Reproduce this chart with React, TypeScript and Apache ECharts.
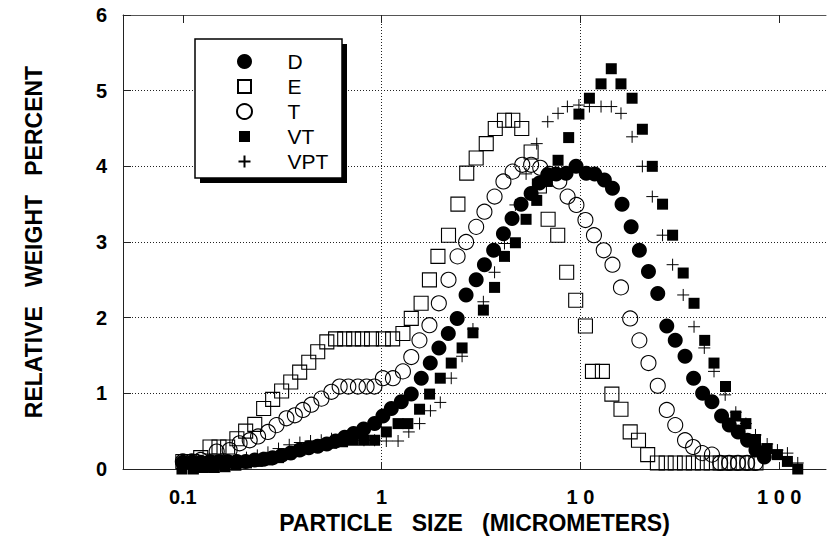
import React, { useEffect, useRef } from "react";
import * as echarts from "echarts";

// ---- data (particle size in micrometers, relative weight percent) ----
const dSize = [0.100, 0.111, 0.123, 0.137, 0.152, 0.168, 0.187, 0.207, 0.230, 0.255, 0.283, 0.314, 0.349, 0.387, 0.430, 0.477, 0.530, 0.587, 0.652, 0.723, 0.812, 0.922, 1.015, 1.119, 1.256, 1.410, 1.583, 1.757, 1.942, 2.165, 2.40, 2.66, 2.99, 3.29, 3.66, 4.10, 4.53, 5.03, 5.65, 6.22, 6.85, 7.55, 8.47, 9.51, 10.7, 11.8, 13.2, 14.5, 16.2, 18.0, 19.8, 22.0, 24.5, 27.2, 30.0, 33.6, 37.1, 41.2, 45.9, 51.3, 56.1, 62.2, 69.3, 76.4, 84.2];
const dValue = [0.09, 0.09, 0.09, 0.1, 0.1, 0.1, 0.1, 0.1, 0.12, 0.13, 0.15, 0.18, 0.21, 0.25, 0.28, 0.3, 0.33, 0.37, 0.42, 0.47, 0.53, 0.60, 0.70, 0.80, 0.89, 0.99, 1.20, 1.40, 1.60, 1.79, 1.99, 2.30, 2.50, 2.70, 2.89, 3.11, 3.31, 3.50, 3.64, 3.78, 3.89, 3.90, 3.91, 4.00, 3.91, 3.90, 3.82, 3.71, 3.50, 3.20, 2.89, 2.61, 2.32, 1.89, 1.70, 1.49, 1.20, 1.00, 0.89, 0.70, 0.58, 0.49, 0.38, 0.25, 0.16];

const eSize = [0.100, 0.111, 0.123, 0.137, 0.152, 0.168, 0.187, 0.207, 0.230, 0.255, 0.283, 0.314, 0.349, 0.387, 0.430, 0.477, 0.530, 0.587, 0.652, 0.723, 0.800, 0.890, 1.02, 1.136, 1.28, 1.41, 1.58, 1.74, 1.92, 2.17, 2.42, 2.68, 2.99, 3.36, 3.73, 4.15, 4.57, 5.07, 5.65, 6.22, 6.88, 7.69, 8.53, 9.47, 10.6, 11.5, 12.9, 14.4, 16.0, 17.8, 19.6, 21.8, 24.4, 27.0, 30.0, 33.4, 37.0, 41.1, 45.5, 50.5, 56.0, 62.1, 68.9, 76.4];
const eValue = [0.1, 0.1, 0.15, 0.29, 0.29, 0.29, 0.40, 0.50, 0.59, 0.80, 0.92, 1.03, 1.15, 1.28, 1.41, 1.55, 1.68, 1.72, 1.72, 1.72, 1.72, 1.72, 1.72, 1.72, 1.79, 1.99, 2.19, 2.50, 2.81, 3.09, 3.50, 3.91, 4.11, 4.30, 4.50, 4.61, 4.61, 4.50, 4.19, 3.74, 3.30, 3.09, 2.60, 2.23, 1.89, 1.29, 1.29, 0.99, 0.79, 0.49, 0.38, 0.19, 0.08, 0.08, 0.08, 0.08, 0.08, 0.08, 0.08, 0.08, 0.08, 0.08, 0.08, 0.08];

const tSize = [0.100, 0.111, 0.123, 0.148, 0.172, 0.193, 0.217, 0.239, 0.268, 0.296, 0.332, 0.366, 0.402, 0.443, 0.498, 0.559, 0.615, 0.68, 0.76, 0.84, 0.92, 1.015, 1.14, 1.28, 1.41, 1.55, 1.74, 1.94, 2.17, 2.41, 2.66, 2.99, 3.29, 3.70, 4.10, 4.56, 5.10, 5.65, 6.28, 6.98, 7.83, 8.62, 9.55, 10.6, 11.7, 13.1, 14.5, 16.0, 17.8, 19.8, 22.0, 24.5, 27.2, 30.0, 33.6, 36.9, 41.0, 45.9, 50.5, 56.0, 62.0, 69.0, 76.0];
const tValue = [0.1, 0.1, 0.12, 0.23, 0.25, 0.34, 0.38, 0.43, 0.49, 0.58, 0.67, 0.71, 0.78, 0.85, 0.93, 1.02, 1.09, 1.09, 1.09, 1.09, 1.09, 1.20, 1.20, 1.29, 1.48, 1.70, 1.90, 2.19, 2.50, 2.81, 3.00, 3.20, 3.40, 3.60, 3.80, 3.93, 4.02, 4.02, 3.98, 3.90, 3.80, 3.60, 3.49, 3.29, 3.09, 2.89, 2.70, 2.40, 1.99, 1.70, 1.40, 1.10, 0.78, 0.58, 0.38, 0.29, 0.21, 0.19, 0.08, 0.08, 0.08, 0.08, 0.08];

const vtSize = [0.099, 0.113, 0.127, 0.144, 0.163, 0.185, 0.209, 0.237, 0.268, 0.303, 0.343, 0.388, 0.439, 0.497, 0.56, 0.636, 0.72, 0.815, 0.922, 1.056, 1.21, 1.355, 1.552, 1.743, 1.973, 2.24, 2.54, 2.88, 3.25, 3.70, 4.15, 4.71, 5.33, 6.03, 6.82, 7.72, 8.73, 9.83, 11.1, 12.7, 14.3, 16.0, 18.2, 20.5, 23.0, 25.9, 29.1, 32.9, 37.3, 42.2, 47.0, 53.7, 60.5, 68.0, 76.0, 87.0, 98.0, 110, 124];
const vtValue = [0.0, 0.0, 0.02, 0.02, 0.03, 0.05, 0.08, 0.1, 0.12, 0.15, 0.2, 0.25, 0.3, 0.32, 0.34, 0.36, 0.38, 0.38, 0.38, 0.49, 0.60, 0.60, 0.79, 0.99, 1.20, 1.40, 1.60, 1.80, 2.10, 2.40, 2.81, 2.99, 3.30, 3.55, 3.80, 4.08, 4.38, 4.69, 4.90, 5.09, 5.29, 5.09, 4.90, 4.49, 4.00, 3.50, 3.09, 2.59, 2.19, 1.70, 1.40, 1.09, 0.70, 0.60, 0.39, 0.27, 0.19, 0.10, 0.0];

const vptSize = [0.099, 0.113, 0.127, 0.144, 0.163, 0.185, 0.209, 0.237, 0.268, 0.303, 0.343, 0.388, 0.439, 0.497, 0.56, 0.636, 0.72, 0.815, 0.922, 1.056, 1.21, 1.37, 1.552, 1.76, 1.973, 2.24, 2.54, 2.88, 3.25, 3.70, 4.15, 4.71, 5.33, 6.03, 6.85, 7.72, 8.6, 9.83, 11.1, 12.7, 14.3, 16.0, 18.2, 20.5, 23.0, 25.9, 29.1, 32.9, 37.3, 42.0, 47.0, 53.5, 60.5, 68.0, 76.0, 87.0, 98.0, 110, 124];
const vptValue = [0.08, 0.08, 0.1, 0.1, 0.1, 0.12, 0.15, 0.18, 0.22, 0.27, 0.32, 0.35, 0.37, 0.38, 0.40, 0.42, 0.42, 0.38, 0.38, 0.37, 0.37, 0.49, 0.60, 0.77, 0.88, 1.20, 1.49, 1.85, 2.21, 2.60, 2.98, 3.49, 3.90, 4.30, 4.59, 4.70, 4.79, 4.81, 4.79, 4.79, 4.79, 4.70, 4.39, 4.00, 3.60, 3.09, 2.70, 2.30, 1.88, 1.60, 1.29, 0.98, 0.75, 0.60, 0.45, 0.33, 0.25, 0.21, 0.08];

const seriesNames = ["D", "E", "T", "VT", "VPT"];
const xTickValues = [0.1, 1, 10, 100];
const xTickLabels = ["0.1", "1", "1 0", "1 0 0"];
const xAxisTitle = "PARTICLE   SIZE   (MICROMETERS)";
const yAxisTitle = "RELATIVE   WEIGHT   PERCENT";

const FONT = '"Liberation Sans", Arial, Helvetica, sans-serif';
const PLUS = "path://M0,6L12,6M6,0L6,12";
// legend icons: invisible move-to corners keep a 15px frame so the visible mark is smaller
const ICON_E = "path://M0,0M15,15M1,1L14,1L14,14L1,14Z";
const ICON_VT = "path://M0,0M15,15M2,2L13,2L13,13L2,13Z";
const ICON_VPT = "path://M0,0M15,15M1.5,7.5L13.5,7.5M7.5,1.5L7.5,13.5";

function zip(xs: number[], ys: number[]) {
  return xs.map((x, i) => [x, ys[i]]);
}

export default function App() {
  const ref = useRef<HTMLDivElement>(null);
  useEffect(() => {
    if (!ref.current) return;
    const chart = echarts.init(ref.current, null, { renderer: "svg" });
    const splitStyle = { type: [1, 2], color: "#222", width: 1 };
    const option: any = {
      animation: false,
      backgroundColor: "#fff",
      textStyle: { fontFamily: FONT },
      grid: { left: 123, right: 2, top: 15, bottom: 82, containLabel: false },
      xAxis: [
        {
          type: "log",
          logBase: 10,
          min: 0.05,
          max: 172,
          position: "bottom",
          name: xAxisTitle,
          nameLocation: "middle",
          nameGap: 41,
          nameTextStyle: { fontSize: 23, fontWeight: "bold", color: "#000", fontFamily: FONT },
          axisLine: { show: true, lineStyle: { color: "#222", width: 1 } },
          axisTick: { show: true, inside: true, length: 7, customValues: xTickValues, lineStyle: { color: "#222" } },
          axisLabel: {
            show: true,
            customValues: xTickValues,
            margin: 18,
            fontSize: 20,
            fontWeight: "bold",
            color: "#000",
            fontFamily: FONT,
            formatter: (v: number) => {
              const i = xTickValues.findIndex((t) => Math.abs(t - v) / t < 1e-6);
              return i >= 0 ? xTickLabels[i] : "";
            },
          },
          splitLine: { show: true, showMinLine: false, showMaxLine: false, lineStyle: splitStyle },
        },
        {
          type: "log",
          logBase: 10,
          min: 0.05,
          max: 172,
          position: "top",
          axisLine: { show: true, lineStyle: { color: "#555", width: 1 } },
          axisTick: { show: true, inside: true, length: 8, customValues: xTickValues, lineStyle: { color: "#222" } },
          axisLabel: { show: false },
          splitLine: { show: false },
        },
      ],
      yAxis: {
        type: "value",
        min: 0,
        max: 6,
        interval: 1,
        name: yAxisTitle,
        nameLocation: "middle",
        nameGap: 78,
        nameTextStyle: { fontSize: 23, fontWeight: "bold", color: "#000", fontFamily: FONT },
        axisLine: { show: true, lineStyle: { color: "#222", width: 1 } },
        axisTick: { show: true, inside: true, length: 8, lineStyle: { color: "#222" } },
        axisLabel: { margin: 16, fontSize: 20, fontWeight: "bold", color: "#000", fontFamily: FONT },
        splitLine: { show: true, showMinLine: false, showMaxLine: false, lineStyle: splitStyle },
      },
      legend: {
        orient: "vertical",
        left: 236,
        top: 51,
        padding: 0,
        itemWidth: 76,
        itemHeight: 15,
        itemGap: 4,
        selectedMode: false,
        symbolKeepAspect: true,
        z: 20,
        textStyle: { fontSize: 21, color: "#000", fontFamily: FONT },
        data: [
          { name: seriesNames[0], icon: "circle" },
          { name: seriesNames[1], icon: ICON_E },
          { name: seriesNames[2], icon: "circle" },
          { name: seriesNames[3], icon: ICON_VT },
          { name: seriesNames[4], icon: ICON_VPT },
        ],
      },
      graphic: [
        { type: "rect", z: 10, silent: true, shape: { x: 200, y: 44, width: 147, height: 139 }, style: { fill: "#000" } },
        { type: "rect", z: 11, silent: true, shape: { x: 195, y: 39, width: 147, height: 139 }, style: { fill: "#fff", stroke: "#000", lineWidth: 1.5 } },
      ],
      series: [
        {
          name: "D",
          type: "scatter",
          data: zip(dSize, dValue),
          symbol: "circle",
          symbolSize: 15,
          itemStyle: { color: "#000", opacity: 1 },
        },
        {
          name: "E",
          type: "scatter",
          data: zip(eSize, eValue),
          symbol: "rect",
          symbolSize: 14,
          itemStyle: { color: "rgba(0,0,0,0)", borderColor: "#000", borderWidth: 1.1, opacity: 1 },
        },
        {
          name: "T",
          type: "scatter",
          data: zip(tSize, tValue),
          symbol: "circle",
          symbolSize: 15,
          itemStyle: { color: "rgba(0,0,0,0)", borderColor: "#000", borderWidth: 1.1, opacity: 1 },
        },
        {
          name: "VT",
          type: "scatter",
          data: zip(vtSize, vtValue),
          symbol: "rect",
          symbolSize: 11,
          itemStyle: { color: "#000", opacity: 1 },
        },
        {
          name: "VPT",
          type: "scatter",
          data: zip(vptSize, vptValue),
          symbol: PLUS,
          symbolKeepAspect: true,
          symbolSize: 12,
          itemStyle: { color: "rgba(0,0,0,0)", borderColor: "#000", borderWidth: 1, opacity: 1 },
        },
      ],
    };
    chart.setOption(option);
    return () => chart.dispose();
  }, []);
  return (
    <div
      ref={ref}
      style={{ position: "fixed", left: 0, top: 0, width: 828, height: 551, background: "#fff" }}
    />
  );
}
